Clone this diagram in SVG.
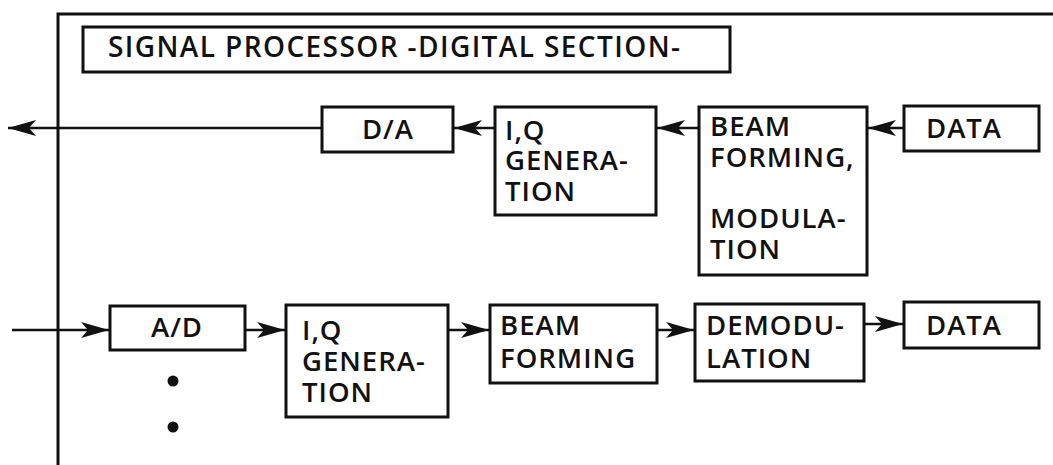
<svg xmlns="http://www.w3.org/2000/svg" width="1053" height="465" viewBox="0 0 1053 465">
  <style>
    .box { fill: none; stroke: #111; stroke-width: 3; }
    .frame { fill: none; stroke: #111; stroke-width: 3; }
    .wire { fill: none; stroke: #111; stroke-width: 2.5; }
    .lbl { font-family: "Open Sans", "Noto Sans", "Liberation Sans", sans-serif; font-size: 27.5px; font-weight: 600; fill: #111; letter-spacing: 1px; }
    .title { font-size: 28px; letter-spacing: 0; }
    .dot { fill: #111; }
  </style>
  <defs>
    <marker id="head" viewBox="0 0 30 18" refX="29" refY="9" markerWidth="30" markerHeight="18" markerUnits="userSpaceOnUse" orient="auto">
      <path d="M29,9 L1,1 L8,9 L1,17 Z" fill="#111"/>
    </marker>
  </defs>

  <rect width="1053" height="465" fill="#fff"/>

  <!-- processor boundary (runs off the sheet right and below) -->
  <path class="frame" d="M58,470 V14 H1060"/>

  <g id="title">
    <rect class="box" x="83" y="27" width="647" height="45"/>
    <text class="lbl title" x="108" y="57" textLength="572" lengthAdjust="spacing">SIGNAL PROCESSOR -DIGITAL SECTION-</text>
  </g>

  <!-- transmit chain -->
  <g id="da">
    <rect class="box" x="322" y="107" width="131" height="45"/>
    <text class="lbl" x="388" y="139" text-anchor="middle">D/A</text>
  </g>
  <g id="iq-tx">
    <rect class="box" x="495" y="107" width="161" height="108"/>
    <text class="lbl" x="505" y="140">I,Q</text>
    <text class="lbl" x="505" y="170">GENERA-</text>
    <text class="lbl" x="505" y="201">TION</text>
  </g>
  <g id="bf-mod">
    <rect class="box" x="699" y="107" width="168" height="168"/>
    <text class="lbl" x="710" y="136">BEAM</text>
    <text class="lbl" x="710" y="167">FORMING,</text>
    <text class="lbl" x="710" y="228">MODULA-</text>
    <text class="lbl" x="710" y="259">TION</text>
  </g>
  <g id="data-tx">
    <rect class="box" x="904" y="106" width="135" height="45"/>
    <text class="lbl" x="926" y="138">DATA</text>
  </g>

  <!-- receive chain -->
  <g id="ad">
    <rect class="box" x="110" y="306" width="135" height="44"/>
    <text class="lbl" x="177" y="337" text-anchor="middle">A/D</text>
  </g>
  <g id="iq-rx">
    <rect class="box" x="286" y="305" width="162" height="112"/>
    <text class="lbl" x="302" y="340">I,Q</text>
    <text class="lbl" x="302" y="371">GENERA-</text>
    <text class="lbl" x="302" y="402">TION</text>
  </g>
  <g id="bf-rx">
    <rect class="box" x="490" y="305" width="167" height="78"/>
    <text class="lbl" x="500" y="335">BEAM</text>
    <text class="lbl" x="500" y="368">FORMING</text>
  </g>
  <g id="demod">
    <rect class="box" x="695" y="304" width="169" height="77"/>
    <text class="lbl" x="706" y="335">DEMODU-</text>
    <text class="lbl" x="706" y="368">LATION</text>
  </g>
  <g id="data-rx">
    <rect class="box" x="904" y="302" width="135" height="46"/>
    <text class="lbl" x="926" y="335">DATA</text>
  </g>

  <!-- further parallel channels -->
  <g id="more-channels">
    <circle class="dot" cx="173" cy="381" r="5.5"/>
    <circle class="dot" cx="173" cy="427" r="5.5"/>
  </g>

  <g id="connectors">
    <line class="wire" x1="904" y1="128" x2="868" y2="128" marker-end="url(#head)"/>
    <line class="wire" x1="699" y1="128" x2="657" y2="128" marker-end="url(#head)"/>
    <line class="wire" x1="495" y1="128" x2="454" y2="128" marker-end="url(#head)"/>
    <line class="wire" x1="322" y1="128" x2="8" y2="128" marker-end="url(#head)"/>

    <line class="wire" x1="12" y1="330" x2="109" y2="330" marker-end="url(#head)"/>
    <line class="wire" x1="245" y1="330" x2="285" y2="330" marker-end="url(#head)"/>
    <line class="wire" x1="448" y1="330" x2="489" y2="330" marker-end="url(#head)"/>
    <line class="wire" x1="657" y1="330" x2="694" y2="330" marker-end="url(#head)"/>
    <line class="wire" x1="864" y1="324" x2="903" y2="324" marker-end="url(#head)"/>
  </g>
</svg>
